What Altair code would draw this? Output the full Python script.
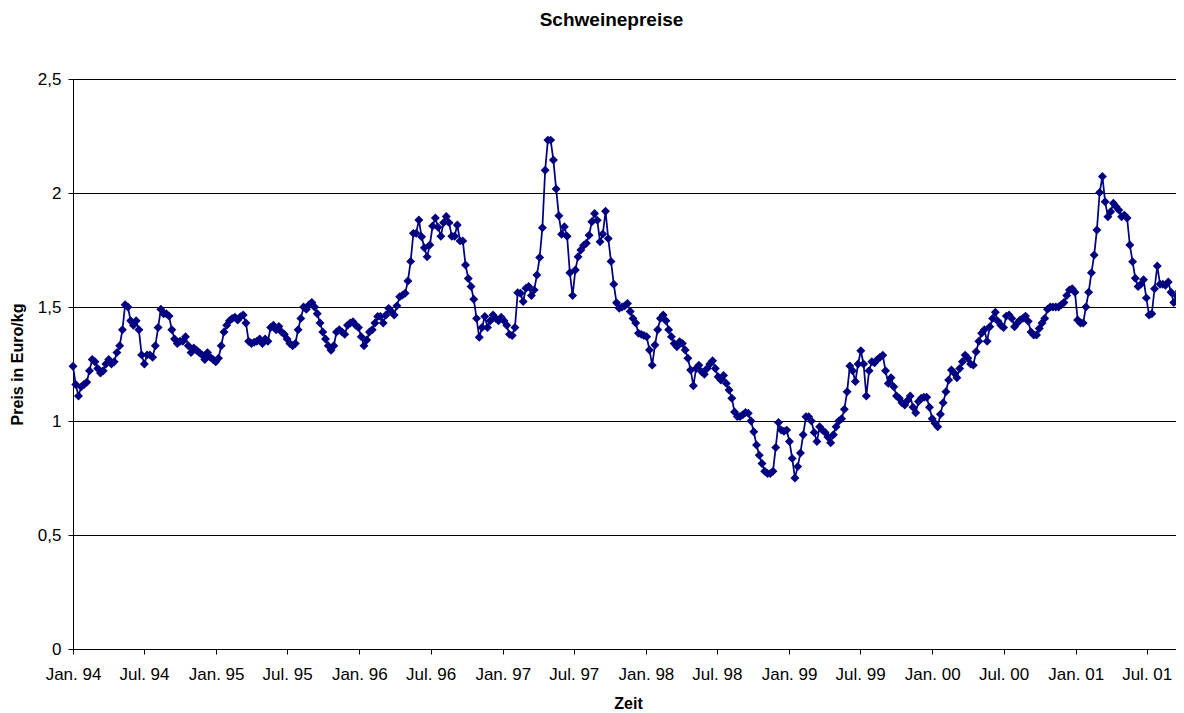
import altair as alt
import pandas as pd

# Weekly pig prices (Euro/kg), starting Jan. 1994
w1994 = [1.24, 1.16, 1.11, 1.15, 1.16, 1.17, 1.22, 1.27, 1.26, 1.23,
         1.21, 1.22, 1.25, 1.27, 1.25, 1.26, 1.30, 1.33, 1.40, 1.51,
         1.50, 1.44, 1.42, 1.44, 1.40, 1.29, 1.25, 1.29, 1.29, 1.28,
         1.33, 1.41, 1.49, 1.47, 1.47, 1.46, 1.40, 1.36, 1.34, 1.35,
         1.35, 1.37, 1.33, 1.30, 1.32, 1.31, 1.30, 1.29, 1.27, 1.30,
         1.28, 1.27]
w1995 = [1.26, 1.275, 1.33, 1.39, 1.42, 1.44, 1.45, 1.455, 1.443, 1.457,
         1.465, 1.43, 1.35, 1.34, 1.345, 1.35, 1.36, 1.34, 1.36, 1.35,
         1.41, 1.42, 1.40, 1.415, 1.39, 1.38, 1.36, 1.34, 1.33, 1.34,
         1.40, 1.45, 1.50, 1.49, 1.51, 1.52, 1.50, 1.47, 1.43, 1.39,
         1.36, 1.33, 1.31, 1.33, 1.39, 1.40, 1.39, 1.38, 1.42, 1.43,
         1.435, 1.42]
w1996 = [1.41, 1.37, 1.33, 1.355, 1.39, 1.40, 1.43, 1.458, 1.458, 1.43,
         1.465, 1.494, 1.48, 1.465, 1.505, 1.545, 1.552, 1.56, 1.614, 1.70,
         1.823, 1.823, 1.882, 1.808, 1.76, 1.72, 1.772, 1.855, 1.89, 1.85,
         1.81, 1.87, 1.897, 1.87, 1.81, 1.81, 1.86, 1.79, 1.79, 1.684,
         1.625, 1.59, 1.534, 1.45, 1.367, 1.41, 1.458, 1.41, 1.44, 1.465,
         1.45, 1.44]
w1997 = [1.455, 1.44, 1.42, 1.38, 1.375, 1.41, 1.563, 1.56, 1.524, 1.582,
         1.59, 1.55, 1.575, 1.64, 1.717, 1.848, 2.10, 2.232, 2.232, 2.145,
         2.018, 1.90, 1.819, 1.852, 1.81, 1.65, 1.55, 1.662, 1.72, 1.75,
         1.77, 1.78, 1.815, 1.874, 1.91, 1.88, 1.786, 1.82, 1.92, 1.80,
         1.70, 1.60, 1.519, 1.494, 1.50, 1.505, 1.515, 1.48, 1.45, 1.43,
         1.385, 1.38]
w1998 = [1.375, 1.37, 1.311, 1.245, 1.333, 1.40, 1.45, 1.465, 1.44, 1.40,
         1.37, 1.34, 1.326, 1.348, 1.34, 1.311, 1.275, 1.224, 1.155, 1.23,
         1.245, 1.216, 1.205, 1.23, 1.25, 1.264, 1.23, 1.194, 1.18, 1.20,
         1.165, 1.136, 1.10, 1.04, 1.02, 1.02, 1.027, 1.037, 1.034, 1.00,
         0.953, 0.895, 0.85, 0.814, 0.78, 0.77, 0.77, 0.78, 0.884, 0.993,
         0.96, 0.955]
w1999 = [0.96, 0.91, 0.836, 0.75, 0.80, 0.86, 0.94, 1.019, 1.019, 1.0,
         0.95, 0.91, 0.975, 0.96, 0.95, 0.93, 0.905, 0.94, 0.975, 1.0,
         1.01, 1.051, 1.128, 1.241, 1.22, 1.173, 1.25, 1.308, 1.25, 1.11,
         1.22, 1.26, 1.255, 1.27, 1.28, 1.288, 1.22, 1.165, 1.19, 1.15,
         1.11, 1.10, 1.08, 1.07, 1.09, 1.11, 1.06, 1.036, 1.085, 1.10,
         1.104, 1.104]
w2000 = [1.06, 1.01, 0.99, 0.975, 1.03, 1.08, 1.128, 1.18, 1.224, 1.21,
         1.19, 1.23, 1.26, 1.289, 1.275, 1.25, 1.245, 1.304, 1.35, 1.385,
         1.40, 1.35, 1.413, 1.45, 1.477, 1.437, 1.42, 1.41, 1.46, 1.465,
         1.45, 1.413, 1.43, 1.443, 1.45, 1.46, 1.437, 1.39, 1.377, 1.377,
         1.406, 1.43, 1.45, 1.49, 1.50, 1.50, 1.50, 1.50, 1.51, 1.52,
         1.55, 1.575]
w2001 = [1.58, 1.565, 1.443, 1.43, 1.43, 1.50, 1.565, 1.65, 1.728, 1.838,
         2.002, 2.072, 1.962, 1.896, 1.918, 1.955, 1.94, 1.925, 1.896, 1.903,
         1.89, 1.772, 1.699, 1.626, 1.59, 1.60, 1.62, 1.54, 1.465, 1.47,
         1.58, 1.68, 1.60, 1.60, 1.595, 1.61, 1.565, 1.52, 1.55, 1.57,
         1.58]

tick_years = list(range(1994, 2002))
tick_months = [1, 7]

values = w1994 + w1995 + w1996 + w1997 + w1998 + w1999 + w2000 + w2001
dates = pd.date_range("1994-01-01", periods=len(values), freq="7D").strftime("%Y-%m-%d").tolist()
df = pd.DataFrame({"Datum": dates, "Preis": values})

tick_dates = [alt.DateTime(year=y, month=m, date=1, utc=True) for y in tick_years for m in tick_months]

FONT = "Liberation Sans"
NAVY = "#000080"

x_enc = alt.X(
    "Datum:T",
    scale=alt.Scale(
        type="utc",
        domain=[alt.DateTime(year=1994, month=1, date=1, utc=True),
                alt.DateTime(year=2001, month=9, date=13, hours=17, utc=True)],
    ),
    axis=alt.Axis(
        values=tick_dates,
        labelExpr="utcFormat(datum.value, '%b. %y')",
        title="Zeit",
        grid=False,
        domainColor="black",
        tickColor="black",
        tickSize=5,
        labelPadding=12,
        labelFontSize=17,
        labelColor="black",
        labelFont=FONT,
        labelOverlap=False,
        labelFlush=False,
        titleFont=FONT,
        titleFontSize=16,
        titleFontWeight="bold",
        titleColor="black",
        titleX=555,
        titleY=54,
        titleBaseline="middle",
        titleAlign="center",
    ),
)

y_enc = alt.Y(
    "Preis:Q",
    scale=alt.Scale(domain=[0, 2.5], nice=False),
    axis=alt.Axis(
        values=[0, 0.5, 1, 1.5, 2, 2.5],
        labelExpr="replace(format(datum.value, ''), '.', ',')",
        title="Preis in Euro/kg",
        grid=True,
        gridColor="black",
        gridWidth=1,
        domainColor="black",
        tickColor="black",
        tickSize=5,
        labelPadding=7,
        labelFontSize=17,
        labelColor="black",
        labelFont=FONT,
        titleFont=FONT,
        titleFontSize=16,
        titleFontWeight="bold",
        titleColor="black",
        titleAngle=270,
        titleX=-56,
        titleY=285,
        titleBaseline="middle",
        titleAlign="center",
    ),
)

line = alt.Chart(df).mark_line(color=NAVY, strokeWidth=1.75).encode(x=x_enc, y=y_enc)
points = alt.Chart(df).mark_point(
    shape="diamond", filled=True, color=NAVY, size=80, opacity=1
).encode(x="Datum:T", y="Preis:Q")

chart = (
    alt.layer(line, points)
    .properties(
        width=1103,
        height=570,
        autosize=alt.AutoSizeParams(type="none"),
        padding={"left": 65, "top": 71, "right": 0, "bottom": 64},
        title=alt.TitleParams(
            text="Schweinepreise",
            font=FONT,
            fontSize=19,
            fontWeight="bold",
            color="black",
            anchor="middle",
            dx=-13,
            offset=40,
        ),
    )
    .configure_view(strokeWidth=0)
    .configure(font=FONT, background="white")
)

chart.save("out.html", embed_options={"renderer": "svg", "actions": False})
